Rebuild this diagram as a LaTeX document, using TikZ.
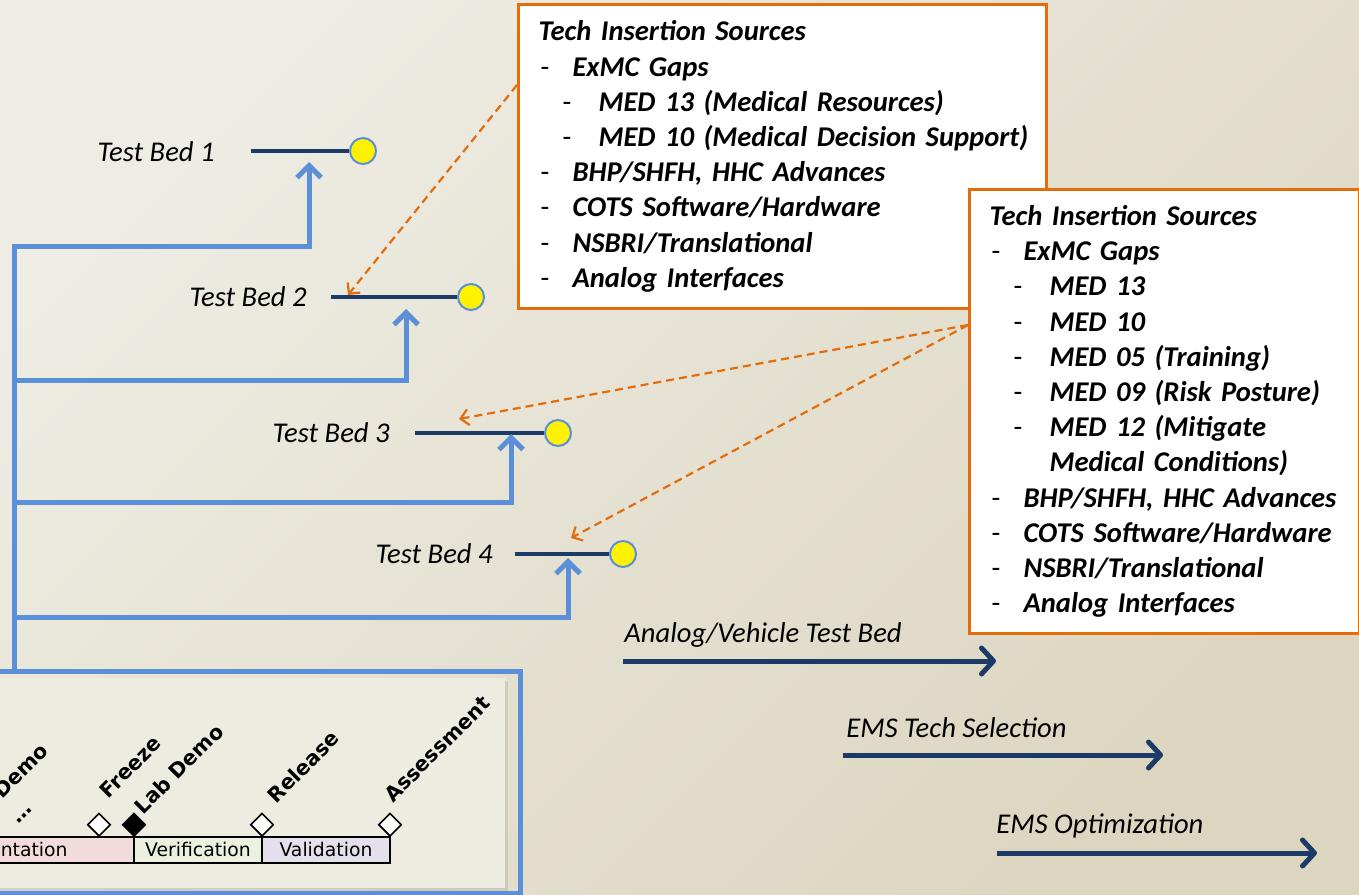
\documentclass[tikz,border=0pt]{standalone}
\usepackage{fontspec}
\setmainfont{Carlito}
\newfontfamily\lifefont{DejaVu Sans}
\usetikzlibrary{
    arrows.meta,
    calc,
    positioning,
    shapes.geometric,
    shadows
}

\definecolor{bgLight}{HTML}{EEECE3}
\definecolor{bgDark}{HTML}{DCD6C1}
\definecolor{feedBlue}{HTML}{5B8FD7}
\definecolor{bedNavy}{HTML}{1B3A66}
\definecolor{srcOrange}{HTML}{E46C0A}
\definecolor{implPink}{HTML}{F2DCDB}
\definecolor{verGreen}{HTML}{EBF1DE}
\definecolor{valPurple}{HTML}{E4DFEC}
\definecolor{panelFill}{HTML}{EEEBE1}

\newcommand{\srcitem}[1]{\mbox{\makebox[17pt][l]{\hspace{1pt}{\mdseries\upshape -}}#1}}
\newcommand{\srcsub}[1]{\mbox{\hspace{12pt}\makebox[18pt][l]{{\mdseries\upshape -}}#1}}

\tikzset{
    bedlabel/.style={font=\itshape\fontsize{14.3}{17}\selectfont, inner sep=0pt},
    bedline/.style={draw=bedNavy, line width=2pt},
    beddot/.style={circle, fill=yellow, draw=feedBlue, line width=1pt,
        minimum size=13pt, inner sep=0pt},
    feed/.style={draw=feedBlue, line width=2.5pt},
    feedarrow/.style={feed, -{Straight Barb[length=6pt,width=12pt]}},
    link/.style={draw=srcOrange, line width=1.1pt, dash pattern=on 4pt off 2.5pt,
        -{Straight Barb[length=4pt,width=8pt]}},
    srcbox/.style={draw=srcOrange, line width=1.5pt, fill=white, anchor=north west,
        align=left, inner xsep=10pt,
        font=\bfseries\itshape\fontsize{14.3}{17.6}\selectfont},
    stagearrow/.style={draw=bedNavy, line width=2.5pt,
        -{Straight Barb[length=6pt,width=13pt,round]}},
    frame/.style={draw=feedBlue, line width=2.5pt, anchor=north west},
    panel/.style={fill=panelFill, anchor=north west,
        drop shadow={opacity=0.2, shadow xshift=1.5pt, shadow yshift=-1.5pt}},
    phase/.style={draw=black, line width=1pt, outer sep=0pt, inner sep=0pt,
        minimum height=13pt, text height=1.6ex, text depth=.3ex,
        font=\lifefont\fontsize{9.4}{11}\selectfont},
    gate/.style={diamond, draw=black, fill=white, line width=0.8pt,
        minimum width=11.5pt, minimum height=11.5pt, inner sep=0pt},
    milestone/.style={font=\lifefont\bfseries\fontsize{10.3}{12}\selectfont, inner sep=0pt, rotate=45}
}

\begin{document}
\begin{tikzpicture}[x=0.5pt, y=-0.5pt]
    \useasboundingbox (0,0) rectangle (1359,894);
    \clip (0,0) rectangle (1359,894);
    \shade[top color=bgLight, bottom color=bgDark, shading angle=45] (0,0) rectangle (1359,894);

    % life-cycle panel at the bottom left
    \node[frame, minimum width=269pt, minimum height=111pt] (lifecycle) at (-20,669) {};
    \node[panel, minimum width=262.5pt, minimum height=105pt] (panel) at (-20,678) {};
    \node[phase, fill=implPink, minimum width=141pt] (impl) at (-7,850) {Implementation};
    \node[phase, fill=verGreen, minimum width=64pt, right=0pt of impl] (verif) {Verification};
    \node[phase, fill=valPurple, minimum width=64pt, right=0pt of verif] (valid) {Validation};
    \node[gate, anchor=south] (gFreeze) at ($(impl.north east)+(-35,0)$) {};
    \node[gate, fill=black, anchor=south] (gLab) at (impl.north east) {};
    \node[gate, anchor=south] (gRelease) at (verif.north east) {};
    \node[gate, anchor=south] (gAssess) at (valid.north east) {};
    \node[milestone, anchor=base east] (mDemo) at (50,752) {Demo};
    \node[milestone, anchor=base] (mDots) at (26,817) {\ldots};
    \node[milestone, anchor=base west] (mFreeze) at ($(gFreeze.north)+(9,-13)$) {Freeze};
    \node[milestone, anchor=base west] (mLab) at ($(gLab.north)+(9,3)$) {Lab Demo};
    \node[milestone, anchor=base west] (mRelease) at ($(gRelease.north)+(14,-8)$) {Release};
    \node[milestone, anchor=base west] (mAssess) at ($(gAssess.north)+(3,-9)$) {Assessment};

    % test beds
    \node[bedlabel, anchor=east] (tb1) at (215,152) {Test Bed 1};
    \node[beddot] (tb1dot) at (363,151) {};
    \coordinate (tb1s) at (251,151);
    \draw[bedline] (tb1s) -- (tb1dot);
    \node[bedlabel, anchor=east] (tb2) at (307,297) {Test Bed 2};
    \node[beddot] (tb2dot) at (471,297) {};
    \coordinate (tb2s) at (331,297);
    \draw[bedline] (tb2s) -- (tb2dot);
    \node[bedlabel, anchor=east] (tb3) at (390,433) {Test Bed 3};
    \node[beddot] (tb3dot) at (558,433) {};
    \coordinate (tb3s) at (415,433);
    \draw[bedline] (tb3s) -- (tb3dot);
    \node[bedlabel, anchor=east] (tb4) at (493,554) {Test Bed 4};
    \node[beddot] (tb4dot) at (623,554) {};
    \coordinate (tb4s) at (515,554);
    \draw[bedline] (tb4s) -- (tb4dot);

    % feeds from the life-cycle panel
    \coordinate (j1) at (14,246);
    \coordinate (j2) at (14,380);
    \coordinate (j3) at (14,502);
    \coordinate (j4) at (14,617);
    \coordinate (tb1in) at (309,162);
    \coordinate (tb2in) at (406,309);
    \coordinate (tb3in) at (511,434);
    \coordinate (tb4in) at (568,558);
    \draw[feedarrow] (lifecycle.north -| j1) -- (j1) -| (tb1in);
    \draw[feedarrow] (j2) -| (tb2in);
    \draw[feedarrow] (j3) -| (tb3in);
    \draw[feedarrow] (j4) -| (tb4in);

    % tech insertion sources
    \node[srcbox, minimum width=264pt, minimum height=152pt, text width=244pt] (src1) at (517,3) {%
        Tech Insertion Sources\\
        \srcitem{ExMC Gaps}\\
        \srcsub{MED 13 (Medical Resources)}\\
        \srcsub{MED 10 (Medical Decision Support)}\\
        \srcitem{BHP/SHFH, HHC Advances}\\
        \srcitem{COTS Software/Hardware}\\
        \srcitem{NSBRI/Translational}\\
        \srcitem{Analog Interfaces}};
    \node[srcbox, minimum width=195pt, minimum height=222pt, text width=175pt] (src2) at (968,188) {%
        Tech Insertion Sources\\
        \srcitem{ExMC Gaps}\\
        \srcsub{MED 13}\\
        \srcsub{MED 10}\\
        \srcsub{MED 05 (Training)}\\
        \srcsub{MED 09 (Risk Posture)}\\
        \srcsub{MED 12 (Mitigate}\\
        \hspace{30pt}Medical Conditions)\\
        \srcitem{BHP/SHFH, HHC Advances}\\
        \srcitem{COTS Software/Hardware}\\
        \srcitem{NSBRI/Translational}\\
        \srcitem{Analog Interfaces}};

    \coordinate (tb2hit) at (348,295);
    \coordinate (tb3hit) at (459,419);
    \coordinate (tb4hit) at (571,538);
    \draw[link] ($(src1.north west)+(0,82)$) -- (tb2hit);
    \draw[link] ($(src2.north west)+(0,137)$) -- (tb3hit);
    \draw[link] ($(src2.north west)+(0,137)$) -- (tb4hit);

    % later stages
    \node[bedlabel, anchor=west] (avLabel) at (624,635) {Analog/Vehicle Test Bed};
    \coordinate (avFrom) at (623,661);
    \coordinate (avTo) at (996,661);
    \draw[stagearrow] (avFrom) -- (avTo);
    \node[bedlabel, anchor=west] (selLabel) at (846,728) {EMS Tech Selection};
    \coordinate (selFrom) at (843,755);
    \coordinate (selTo) at (1163,755);
    \draw[stagearrow] (selFrom) -- (selTo);
    \node[bedlabel, anchor=west] (optLabel) at (996,826) {EMS Optimization};
    \coordinate (optFrom) at (997,853);
    \coordinate (optTo) at (1317,853);
    \draw[stagearrow] (optFrom) -- (optTo);
\end{tikzpicture}
\end{document}
